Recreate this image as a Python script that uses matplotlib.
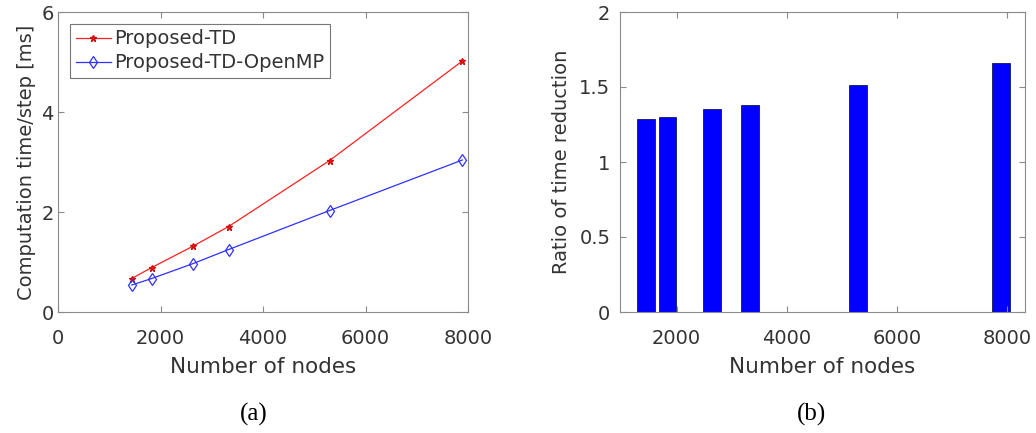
import matplotlib.pyplot as plt

plt.rcParams['font.family'] = 'DejaVu Sans'

nodes = [1440, 1830, 2640, 3330, 5300, 7890]
td_time = [0.67, 0.89, 1.32, 1.71, 3.03, 5.02]
openmp_time = [0.54, 0.67, 0.97, 1.25, 2.03, 3.04]
ratio = [1.287, 1.302, 1.353, 1.38, 1.513, 1.662]

text_c = '#333333'
spine_c = '#8a8a8a'

fig = plt.figure(figsize=(10.36, 4.33), dpi=100)
ax1 = fig.add_axes([58/1036, 121/433, 410/1036, 300/433])
ax2 = fig.add_axes([620/1036, 121/433, 405/1036, 300/433])


def style(ax, ypad):
    for s in ax.spines.values():
        s.set_color(spine_c)
        s.set_linewidth(0.8)
    ax.tick_params(direction='in', top=True, right=True, length=4,
                   color=spine_c, labelcolor=text_c, labelsize=14)
    ax.tick_params(axis='x', pad=12)
    ax.tick_params(axis='y', pad=ypad)


# (a) computation time per step
ax1.plot(nodes, td_time, color='#ff2020', lw=0.9, marker='*', ms=5,
         mec='#d01010', label='Proposed-TD')
ax1.plot(nodes, openmp_time, color='#3030ff', lw=0.9, marker='d', ms=6,
         mfc='none', mec='#3030ff', mew=0.9, label='Proposed-TD-OpenMP')
ax1.set_xlim(0, 8000)
ax1.set_ylim(0, 6)
ax1.set_xticks([0, 2000, 4000, 6000, 8000])
ax1.set_yticks([0, 2, 4, 6])
ax1.set_xlabel('Number of nodes', fontsize=15.5, color=text_c, labelpad=7)
ax1.set_ylabel('Computation time/step [ms]', fontsize=14, color=text_c, labelpad=4)
leg = ax1.legend(loc='upper left', fontsize=14, frameon=True, fancybox=False,
                 borderaxespad=0.6, handlelength=1.8, handletextpad=0.2,
                 borderpad=0.3, labelspacing=0.25, labelcolor=text_c)
leg.get_frame().set_edgecolor('#555555')
leg.get_frame().set_linewidth(0.8)
style(ax1, 3)

# (b) ratio of time reduction
ax2.bar(nodes, ratio, width=320, color='#0000ff', edgecolor='#000033', lw=0.5)
ax2.set_xlim(970, 8330)
ax2.set_ylim(0, 2)
ax2.set_xticks([2000, 4000, 6000, 8000])
ax2.set_yticks([0, 0.5, 1, 1.5, 2])
ax2.set_yticklabels(['0', '0.5', '1', '1.5', '2'])
ax2.set_xlabel('Number of nodes', fontsize=15.5, color=text_c, labelpad=7)
ax2.set_ylabel('Ratio of time reduction', fontsize=14, color=text_c, labelpad=6)
style(ax2, 7)

fig.text(254/1036, 1 - 414/433, '(a)', family='Liberation Serif', fontsize=18,
         ha='center', va='center', color='black')
fig.text(812/1036, 1 - 414/433, '(b)', family='Liberation Serif', fontsize=18,
         ha='center', va='center', color='black')

fig.savefig('out.png', dpi=100, facecolor='white')
